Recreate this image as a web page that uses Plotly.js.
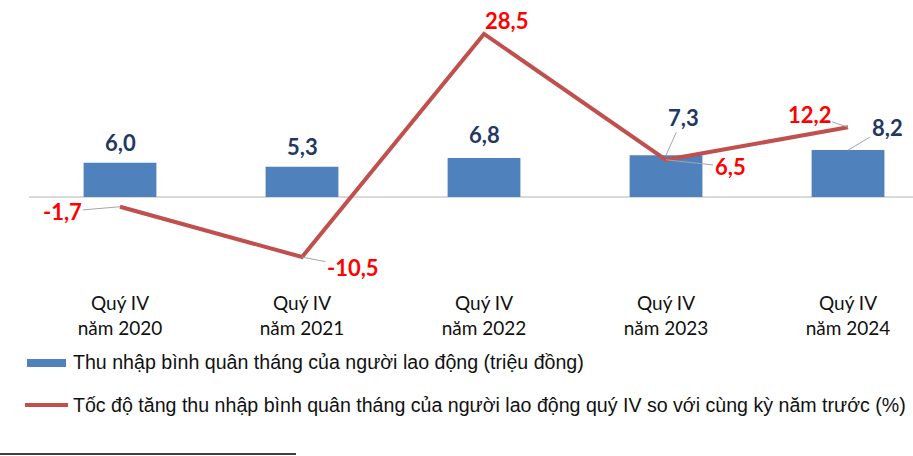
<!DOCTYPE html>
<html>
<head>
<meta charset="utf-8">
<script src="https://cdn.plot.ly/plotly-3.0.1.min.js"></script>
<style>
  html, body { margin: 0; padding: 0; background: #fff; }
  #chart { width: 913px; height: 456px; }
</style>
</head>
<body>
<div id="chart"></div>
<script>
const categories = [
  'Quý IV<br>năm 2020',
  'Quý IV<br>năm 2021',
  'Quý IV<br>năm 2022',
  'Quý IV<br>năm 2023',
  'Quý IV<br>năm 2024'
];
const incomeValues = [6.0, 5.3, 6.8, 7.3, 8.2];
const growthValues = [-1.7, -10.5, 28.5, 6.5, 12.2];
const incomeName = 'Thu nhập bình quân tháng của người lao động (triệu đồng)';
const growthName = 'Tốc độ tăng thu nhập bình quân tháng của người lao động quý IV so với cùng kỳ năm trước (%)';

// label offsets in px from the point, [ax, ay, showLeader]
const incomeLabelPos = [[0, -20, false], [0, -20, false], [0, -24, false], [17, -38, true], [39, -23, true]];
const growthLabelPos = [[-58, 5, true], [51, 10, true], [22, -13, false], [64, 7, true], [-39, -13, true]];

const barColor = '#4F81BD';
const lineColor = '#C0504D';

// plot box in px, used to place the hand drawn legend
const plot = { l: 29, t: 10, w: 884, h: 280 };
const px2x = px => (px - plot.l) / plot.w;
const px2y = py => (plot.t + plot.h - py) / plot.h;

const fmt = v => v.toFixed(1).replace('.', ',');

let annotations = [];
incomeValues.forEach((v, i) => {
  const p = incomeLabelPos[i];
  annotations.push({
    x: categories[i], y: v, xref: 'x', yref: 'y',
    text: fmt(v), showarrow: true, arrowhead: 0, arrowwidth: 1,
    arrowcolor: p[2] ? '#a6a6a6' : 'rgba(0,0,0,0)',
    ax: p[0], ay: p[1], standoff: 0,
    font: { family: 'Lato', size: 22, color: '#1F3864', weight: 'bold' }
  });
});
growthValues.forEach((v, i) => {
  const p = growthLabelPos[i];
  annotations.push({
    x: categories[i], y: v, xref: 'x', yref: 'y',
    text: fmt(v), showarrow: true, arrowhead: 0, arrowwidth: 1,
    arrowcolor: p[2] ? '#a6a6a6' : 'rgba(0,0,0,0)',
    ax: p[0], ay: p[1], standoff: 0,
    font: { family: 'Lato', size: 22, color: '#FF0000', weight: 'bold' }
  });
});

// legend texts
annotations.push({
  xref: 'paper', yref: 'paper', x: px2x(71), y: px2y(362),
  xanchor: 'left', yanchor: 'middle', showarrow: false, text: incomeName,
  font: { family: 'Liberation Sans, Arial', size: 19.6, color: '#111' }
});
annotations.push({
  xref: 'paper', yref: 'paper', x: px2x(71), y: px2y(405),
  xanchor: 'left', yanchor: 'middle', showarrow: false, text: growthName,
  font: { family: 'Liberation Sans, Arial', size: 19.6, color: '#111' }
});

const shapes = [
  { type: 'rect', xref: 'paper', yref: 'paper', x0: px2x(27), x1: px2x(66), y0: px2y(367), y1: px2y(359),
    fillcolor: barColor, line: { width: 0 } },
  { type: 'line', xref: 'paper', yref: 'paper', x0: px2x(25), x1: px2x(68), y0: px2y(405), y1: px2y(405),
    line: { color: lineColor, width: 4 } },
  { type: 'line', xref: 'paper', yref: 'paper', x0: px2x(0), x1: px2x(296), y0: px2y(454), y1: px2y(454),
    line: { color: '#000', width: 1.5 } }
];

const data = [
  {
    type: 'bar', x: categories, y: incomeValues, name: incomeName,
    marker: { color: barColor }, hoverinfo: 'skip'
  },
  {
    type: 'scatter', mode: 'lines', x: categories, y: growthValues, name: growthName,
    line: { color: lineColor, width: 4 }, hoverinfo: 'skip'
  }
];

const layout = {
  width: 913,
  height: 456,
  margin: { l: plot.l, r: 913 - plot.l - plot.w, t: plot.t, b: 456 - plot.t - plot.h },
  paper_bgcolor: '#fff',
  plot_bgcolor: '#fff',
  showlegend: false,
  bargap: 0.6,
  xaxis: {
    type: 'category',
    range: [-0.5, 4.357],
    showline: false, showgrid: false, zeroline: false, ticks: '',
    tickfont: { family: 'Lato', size: 19, color: '#111' }
  },
  yaxis: {
    range: [-16.26, 32.69],
    showgrid: false, showticklabels: false, ticks: '',
    zeroline: true, zerolinecolor: '#d9d9d9', zerolinewidth: 2
  },
  annotations: annotations,
  shapes: shapes
};

Plotly.newPlot('chart', data, layout, { displayModeBar: false, staticPlot: true });
</script>
</body>
</html>
